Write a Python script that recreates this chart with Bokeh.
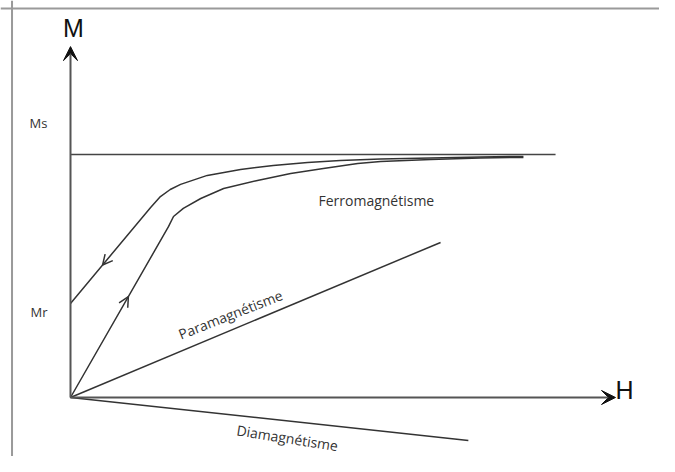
import numpy as np
from bokeh.plotting import figure
from bokeh.models import Range1d, Span, Arrow, VeeHead, OpenHead, Label
from bokeh.embed import file_html
from bokeh.resources import INLINE

# ---- data (H in arbitrary units, M in units of Ms) ----
H_axis_end = 10.0
M_axis_end = 1.444
Ms = 1.0
Mr = 0.387
ms_H = [0.0, 8.90]
para_H = [0.0, 6.79]
para_M = [0.0, 0.638]
dia_H = [0.0, 7.30]
dia_M = [0.0, -0.177]
# descending branch (from Mr up to saturation)
desc_H = [0.00, 1.47, 1.65, 1.83, 2.02, 2.51, 3.12, 3.72, 4.35, 4.95, 5.69, 6.61, 7.52, 8.31]
desc_M = [Mr, 0.782, 0.827, 0.856, 0.877, 0.914, 0.938, 0.955, 0.967, 0.975, 0.981, 0.986, 0.990, 0.992]
# first magnetisation curve
init_H = [0.00, 1.80, 1.89, 2.07, 2.39, 2.81, 3.43, 4.04, 4.64, 5.27, 5.69, 6.61, 7.52, 8.31]
init_M = [0.00, 0.704, 0.745, 0.778, 0.819, 0.860, 0.893, 0.922, 0.942, 0.963, 0.971, 0.979, 0.986, 0.988]

labels = ["Ms", "Mr", "Ferromagnétisme", "Paramagnétisme", "Diamagnétisme"]

LINE = "#333333"
TEXT = "#333333"

p = figure(width=659, height=456, output_backend="svg", toolbar_location=None,
           x_range=Range1d(-1.2844, 10.8073), y_range=Range1d(-0.2428, 1.6337),
           min_border=0, min_border_left=0, min_border_right=0,
           min_border_top=0, min_border_bottom=0)
p.axis.visible = False
p.grid.visible = False
p.outline_line_color = None
p.background_fill_color = "white"

# frame border (left and top visible)
p.add_layout(Span(location=-1.073, dimension="height", line_color="#9a9a9a", line_width=2))
p.add_layout(Span(location=1.601, dimension="width", line_color="#9a9a9a", line_width=2))

# axes with arrow heads
p.add_layout(Arrow(end=VeeHead(size=14, fill_color="#111111", line_color="#111111"),
                   x_start=0, y_start=0, x_end=0, y_end=M_axis_end,
                   line_color="#555555", line_width=2))
p.add_layout(Arrow(end=VeeHead(size=14, fill_color="#111111", line_color="#111111"),
                   x_start=0, y_start=0, x_end=H_axis_end, y_end=0,
                   line_color="#555555", line_width=2))

# saturation line
p.line(ms_H, [Ms, Ms], line_color="#444444", line_width=1.5)
# para / dia
p.line(para_H, para_M, line_color=LINE, line_width=1.5)
p.line(dia_H, dia_M, line_color=LINE, line_width=1.5)
# hysteresis branches
p.line(desc_H, desc_M, line_color=LINE, line_width=1.5)
p.line(init_H, init_M, line_color=LINE, line_width=1.5)

# direction arrows on branches
def arrow_on(hs, ms, t, forward):
    x0, y0, x1, y1 = hs[0], ms[0], hs[1], ms[1]
    xt, yt = x0 + t * (x1 - x0), y0 + t * (y1 - y0)
    d = 0.05
    if forward:
        xs, ys = xt - d * (x1 - x0), yt - d * (y1 - y0)
    else:
        xs, ys = xt + d * (x1 - x0), yt + d * (y1 - y0)
    p.add_layout(Arrow(end=OpenHead(size=10, line_color=LINE, line_width=1.5),
                       x_start=xs, y_start=ys, x_end=xt, y_end=yt,
                       line_alpha=0))

arrow_on(desc_H, desc_M, 0.40, forward=False)
arrow_on(init_H, init_M, 0.59, forward=True)

# axis titles
p.add_layout(Label(x=0.055, y=1.519, text="M", text_font="Liberation Sans",
                   text_font_size="25px", text_color="#111111",
                   text_align="center", text_baseline="middle"))
p.add_layout(Label(x=H_axis_end, y=0.029, text="H", text_font="Liberation Sans",
                   text_font_size="25px", text_color="#111111",
                   text_align="left", text_baseline="middle"))

# other labels
FONT = "Open Sans"
p.add_layout(Label(x=-0.752, y=1.128, text=labels[0], text_font=FONT,
                   text_font_size="13px", text_color=TEXT,
                   text_align="left", text_baseline="middle"))
p.add_layout(Label(x=-0.734, y=0.350, text=labels[1], text_font=FONT,
                   text_font_size="13px", text_color=TEXT,
                   text_align="left", text_baseline="middle"))
p.add_layout(Label(x=4.55, y=0.811, text=labels[2], text_font=FONT,
                   text_font_size="14px", text_color=TEXT,
                   text_align="left", text_baseline="middle"))
p.add_layout(Label(x=2.936, y=0.342, text=labels[3], text_font=FONT,
                   text_font_size="14px", text_color=TEXT,
                   text_align="center", text_baseline="middle",
                   angle=21.5, angle_units="deg"))
p.add_layout(Label(x=3.98, y=-0.166, text=labels[4], text_font=FONT,
                   text_font_size="14px", text_color=TEXT,
                   text_align="center", text_baseline="middle",
                   angle=-9, angle_units="deg"))

open("out.html", "w").write(file_html(p, INLINE))
